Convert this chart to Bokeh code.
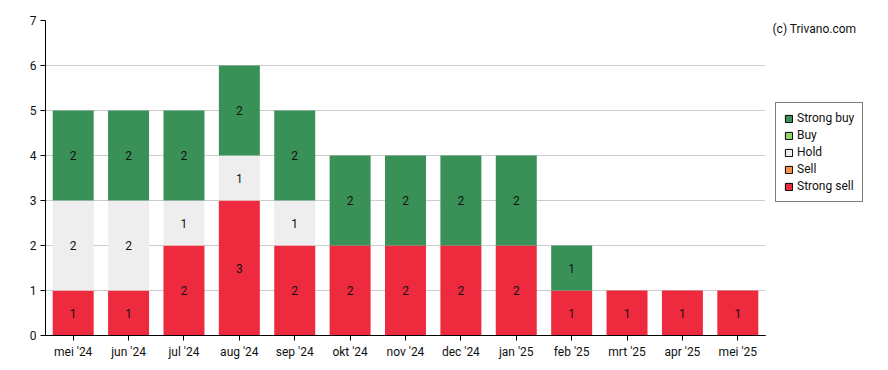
from bokeh.plotting import figure
from bokeh.layouts import row
from bokeh.models import ColumnDataSource, FactorRange, Range1d, Legend, LegendItem, Label, SingleIntervalTicker
from bokeh.core.properties import value
from bokeh.embed import file_html
from bokeh.resources import INLINE

months = ["mei '24", "jun '24", "jul '24", "aug '24", "sep '24", "okt '24", "nov '24",
          "dec '24", "jan '25", "feb '25", "mrt '25", "apr '25", "mei '25"]
strong_sell = [1, 1, 2, 3, 2, 2, 2, 2, 2, 1, 1, 1, 1]
sell = [0] * 13
hold = [2, 2, 1, 1, 1, 0, 0, 0, 0, 0, 0, 0, 0]
buy = [0] * 13
strong_buy = [2, 2, 2, 2, 2, 2, 2, 2, 2, 1, 0, 0, 0]

keys = ["strong_sell", "sell", "hold", "buy", "strong_buy"]
names = ["Strong sell", "Sell", "Hold", "Buy", "Strong buy"]
colors = ["#ee2b3e", "#f7904f", "#eeeeee", "#92d36e", "#3a9158"]

data = dict(months=months, strong_sell=strong_sell, sell=sell, hold=hold, buy=buy, strong_buy=strong_buy)
src = ColumnDataSource(data)

FONT = "Roboto"
H = 362

p = figure(x_range=FactorRange(*months, range_padding=0), y_range=Range1d(0, 7),
           width=765, height=H, output_backend="svg", toolbar_location=None,
           min_border_left=45, min_border_right=0, min_border_top=20, min_border_bottom=27)
p.outline_line_color = None

rs = p.vbar_stack(keys, x="months", width=0.74, color=colors, line_color=None, source=src)

# segment labels
tx, ty, tt = [], [], []
for i, m in enumerate(months):
    base = 0
    for k in keys:
        v = data[k][i]
        if v > 0:
            tx.append(m)
            ty.append(base + v / 2)
            tt.append(str(v))
        base += v
p.text(x=tx, y=ty, text=tt, text_align="center", text_baseline="middle",
       text_font=value(FONT), text_font_size="12px", text_color="#111111")

p.xgrid.grid_line_color = None
p.ygrid.grid_line_color = "#cccccc"
p.yaxis.ticker = SingleIntervalTicker(interval=1)
p.yaxis.minor_tick_line_color = None
for ax in (p.xaxis[0], p.yaxis[0]):
    ax.axis_line_color = "#000000"
    ax.major_tick_line_color = "#000000"
    ax.major_tick_out = 5
    ax.major_tick_in = 0
    ax.major_label_text_font = FONT
    ax.major_label_text_font_size = "12px"
    ax.major_label_text_color = "#111111"
    ax.major_label_standoff = 4

# side panel: legend + credit
W2 = 115
p2 = figure(x_range=Range1d(0, W2), y_range=Range1d(0, H), width=W2, height=H,
            output_backend="svg", toolbar_location=None,
            min_border_left=0, min_border_right=0, min_border_top=0, min_border_bottom=0)
p2.axis.visible = False
p2.grid.grid_line_color = None
p2.outline_line_color = None

# legend swatches (renderers kept outside the visible range)
dummies = [p2.vbar(x=[-50], top=[-50], bottom=[-60], width=1,
                   fill_color=colors[i], line_color="#000000")
           for i in range(5)]
items = [LegendItem(label=names[i], renderers=[dummies[i]]) for i in [4, 3, 2, 1, 0]]
leg = Legend(items=items, location=(10, 133), orientation="vertical",
             label_text_font=FONT, label_text_font_size="12px", label_text_color="#111111",
             glyph_width=9, glyph_height=9, label_height=12, label_standoff=4,
             spacing=3, padding=8, margin=0,
             border_line_color="#000000", border_line_width=1,
             background_fill_alpha=1)
p2.add_layout(leg, "center")

p2.add_layout(Label(x=7, y=H - 9.5, text="(c) Trivano.com", text_baseline="middle",
                    text_font=FONT, text_font_size="12px", text_color="#111111"))

open("out.html", "w").write(file_html(row(p, p2), INLINE))
